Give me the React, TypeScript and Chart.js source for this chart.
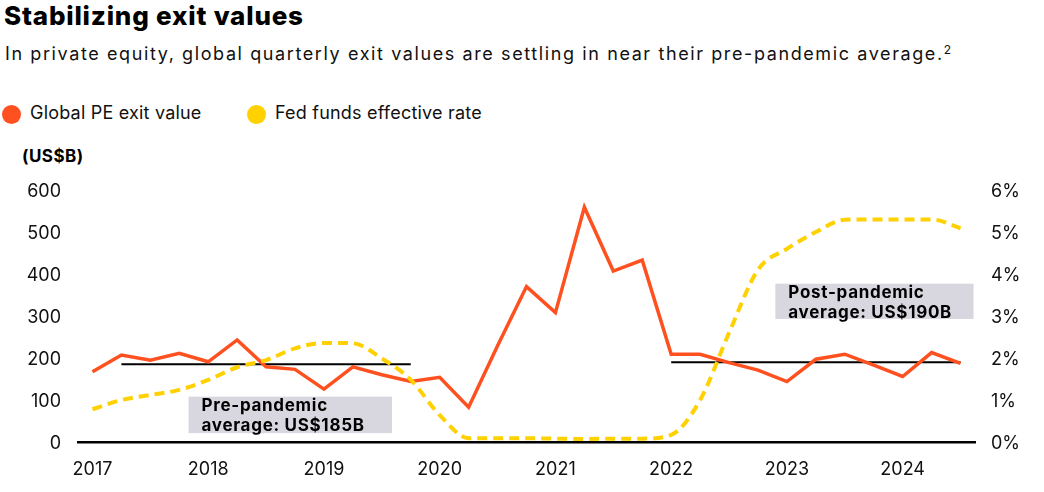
import React, { useEffect, useRef } from "react";
import { Chart, registerables } from "chart.js";

Chart.register(...registerables);

// ---- Data ----
const quarters = [
  "2017 Q1", "2017 Q2", "2017 Q3", "2017 Q4",
  "2018 Q1", "2018 Q2", "2018 Q3", "2018 Q4",
  "2019 Q1", "2019 Q2", "2019 Q3", "2019 Q4",
  "2020 Q1", "2020 Q2", "2020 Q3", "2020 Q4",
  "2021 Q1", "2021 Q2", "2021 Q3", "2021 Q4",
  "2022 Q1", "2022 Q2", "2022 Q3", "2022 Q4",
  "2023 Q1", "2023 Q2", "2023 Q3", "2023 Q4",
  "2024 Q1", "2024 Q2", "2024 Q3",
];

// Global PE exit value (US$B)
const peExitValues = [
  167, 207, 195, 211,
  191, 243, 179, 173,
  126, 179, 160, 144,
  154, 83, 229, 370,
  308, 559, 407, 433,
  209, 209, 189, 171,
  144, 197, 209, 183,
  156, 213, 187,
];

// Fed funds effective rate (%)
const fedFundsRate = [
  0.78, 1.0, 1.12, 1.24,
  1.48, 1.78, 1.95, 2.23,
  2.36, 2.35, 1.99, 1.48,
  0.64, 0.09, 0.09, 0.09,
  0.08, 0.07, 0.08, 0.08,
  0.17, 1.0, 2.6, 4.1,
  4.6, 5.0, 5.29, 5.3,
  5.3, 5.3, 5.09,
];

const leftTicks = [0, 100, 200, 300, 400, 500, 600];
const rightTicks = [0, 1, 2, 3, 4, 5, 6];

const preAvg = 185;
const preRange = ["2017 Q2", "2019 Q4"];
const postAvg = 190;
const postRange = ["2022 Q1", "2024 Q3"];

const preLabel = ["Pre-pandemic", "average: US$185B"];
const postLabel = ["Post-pandemic", "average: US$190B"];

// ---- Colors / fonts ----
const RED = "#FF5020";
const YELLOW = "#FFD100";
const BOX = "#D8D7E0";
const FONT = "Inter, 'Open Sans', sans-serif";

function avgSeries(value: number, range: string[]) {
  const a = quarters.indexOf(range[0]);
  const b = quarters.indexOf(range[1]);
  return quarters.map((_, i) => (i >= a && i <= b ? value : null));
}

// annotation box anchors in data space (x = category index, y = US$B)
const annotations = [
  { lines: preLabel, x0: 3.32, x1: 10.35, yTop: 108, yBottom: 21 },
  { lines: postLabel, x0: 23.6, x1: 30.45, yTop: 377, yBottom: 293 },
];

const annotationPlugin = {
  id: "avgBoxes",
  afterDatasetsDraw(chart: any) {
    const { ctx } = chart;
    const xs = chart.scales.x;
    const ys = chart.scales.y;
    ctx.save();
    for (const a of annotations) {
      const l = xs.getPixelForValue(a.x0);
      const r = xs.getPixelForValue(a.x1);
      const t = ys.getPixelForValue(a.yTop);
      const b = ys.getPixelForValue(a.yBottom);
      ctx.fillStyle = BOX;
      ctx.fillRect(l, t, r - l, b - t);
      ctx.fillStyle = "#000";
      ctx.font = `700 17px ${FONT}`;
      try {
        (ctx as any).letterSpacing = "0.7px";
      } catch (e) {}
      ctx.textBaseline = "alphabetic";
      ctx.textAlign = "left";
      a.lines.forEach((s: string, i: number) => {
        ctx.fillText(s, l + 13, t + 14.5 + i * 19.7);
      });
    }
    ctx.restore();
  },
};

const hiddenTickGrid = {
  display: true,
  drawOnChartArea: false,
  drawTicks: true,
  tickLength: 17,
  color: "rgba(0,0,0,0)",
};

export default function App() {
  const ref = useRef<HTMLCanvasElement | null>(null);

  useEffect(() => {
    document.body.style.margin = "0";
    const canvas = ref.current;
    if (!canvas) return;
    const chart = new Chart(canvas, {
      type: "line",
      data: {
        labels: quarters,
        datasets: [
          {
            label: "Fed funds effective rate",
            data: fedFundsRate,
            yAxisID: "y1",
            borderColor: YELLOW,
            borderWidth: 4,
            borderDash: [10, 6],
            pointRadius: 0,
            cubicInterpolationMode: "monotone",
            fill: false,
          },
          {
            label: "Global PE exit value",
            data: peExitValues,
            yAxisID: "y",
            borderColor: RED,
            borderWidth: 3.5,
            pointRadius: 0,
            tension: 0,
            borderJoinStyle: "miter",
            fill: false,
          },
          {
            label: "Pre-pandemic average",
            data: avgSeries(preAvg, preRange),
            yAxisID: "y",
            borderColor: "#000",
            borderWidth: 2,
            pointRadius: 0,
            spanGaps: false,
          },
          {
            label: "Post-pandemic average",
            data: avgSeries(postAvg, postRange),
            yAxisID: "y",
            borderColor: "#000",
            borderWidth: 2,
            pointRadius: 0,
            spanGaps: false,
          },
        ],
      },
      options: {
        animation: false,
        responsive: false,
        maintainAspectRatio: false,
        layout: { padding: { top: 20, left: 0, right: 0, bottom: 0 } },
        plugins: {
          legend: { display: false },
          tooltip: { enabled: false },
        },
        scales: {
          x: {
            type: "category",
            offset: true,
            grid: { display: false },
            border: { display: true, color: "#000", width: 2.5 },
            ticks: {
              autoSkip: false,
              maxRotation: 0,
              padding: 9,
              color: "#111",
              font: { family: FONT, size: 18 },
              callback: (_v: any, i: number) =>
                i % 4 === 0 ? quarters[i].slice(0, 4) : "",
            },
            afterFit: (s: any) => {
              s.height = 50;
            },
          },
          y: {
            position: "left",
            min: 0,
            max: 600,
            afterBuildTicks: (s: any) => {
              s.ticks = leftTicks.map((v) => ({ value: v }));
            },
            grid: hiddenTickGrid,
            border: { display: false },
            ticks: {
              padding: 0,
              labelOffset: 2,
              color: "#111",
              font: { family: FONT, size: 18 },
            },
            afterFit: (s: any) => {
              s.width = 78;
            },
          },
          y1: {
            position: "right",
            min: 0,
            max: 6,
            afterBuildTicks: (s: any) => {
              s.ticks = rightTicks.map((v) => ({ value: v }));
            },
            grid: { ...hiddenTickGrid, tickLength: 16 },
            border: { display: false },
            ticks: {
              padding: 0,
              labelOffset: 2,
              color: "#111",
              font: { family: FONT, size: 18 },
              callback: (v: any) => `${v}%`,
            },
            afterFit: (s: any) => {
              s.width = 69;
            },
          },
        },
      },
      plugins: [annotationPlugin],
    } as any);
    return () => chart.destroy();
  }, []);

  const dot = (c: string, left: number) => ({
    position: "absolute" as const,
    left,
    top: 104.5,
    width: 19,
    height: 19,
    borderRadius: "50%",
    background: c,
  });

  const legendText = (left: number) => ({
    position: "absolute" as const,
    left,
    top: 103.5,
    fontSize: 18,
    lineHeight: "18px",
    letterSpacing: 0.2,
    whiteSpace: "nowrap" as const,
    color: "#111",
  });

  return (
    <div
      style={{
        position: "relative",
        width: 1044,
        height: 492,
        fontFamily: FONT,
        color: "#000",
        overflow: "hidden",
        background: "#fff",
      }}
    >
      <div
        style={{
          position: "absolute",
          left: 4,
          top: 2.5,
          fontSize: 26,
          lineHeight: "26px",
          fontWeight: 800,
          letterSpacing: 0.8,
          whiteSpace: "nowrap",
        }}
      >
        Stabilizing exit values
      </div>
      <div
        style={{
          position: "absolute",
          left: 5,
          top: 41,
          fontSize: 18,
          lineHeight: "18px",
          letterSpacing: 1.6,
          whiteSpace: "nowrap",
          color: "#111",
        }}
      >
        In private equity, global quarterly exit values are settling in near their
        pre-pandemic average.
        <sup style={{ fontSize: 12, verticalAlign: "6px", marginLeft: 0, letterSpacing: 0 }}>2</sup>
      </div>
      <div style={dot(RED, 2)} />
      <div style={legendText(30)}>Global PE exit value</div>
      <div style={dot(YELLOW, 247)} />
      <div style={legendText(275)}>Fed funds effective rate</div>
      <div
        style={{
          position: "absolute",
          left: 22,
          top: 148,
          fontSize: 17,
          lineHeight: "17px",
          fontWeight: 700,
          letterSpacing: 0.5,
          whiteSpace: "nowrap",
        }}
      >
        (US$B)
      </div>
      <canvas
        ref={ref}
        width={1044}
        height={322}
        style={{ position: "absolute", left: 0, top: 170, width: 1044, height: 322 }}
      />
    </div>
  );
}
